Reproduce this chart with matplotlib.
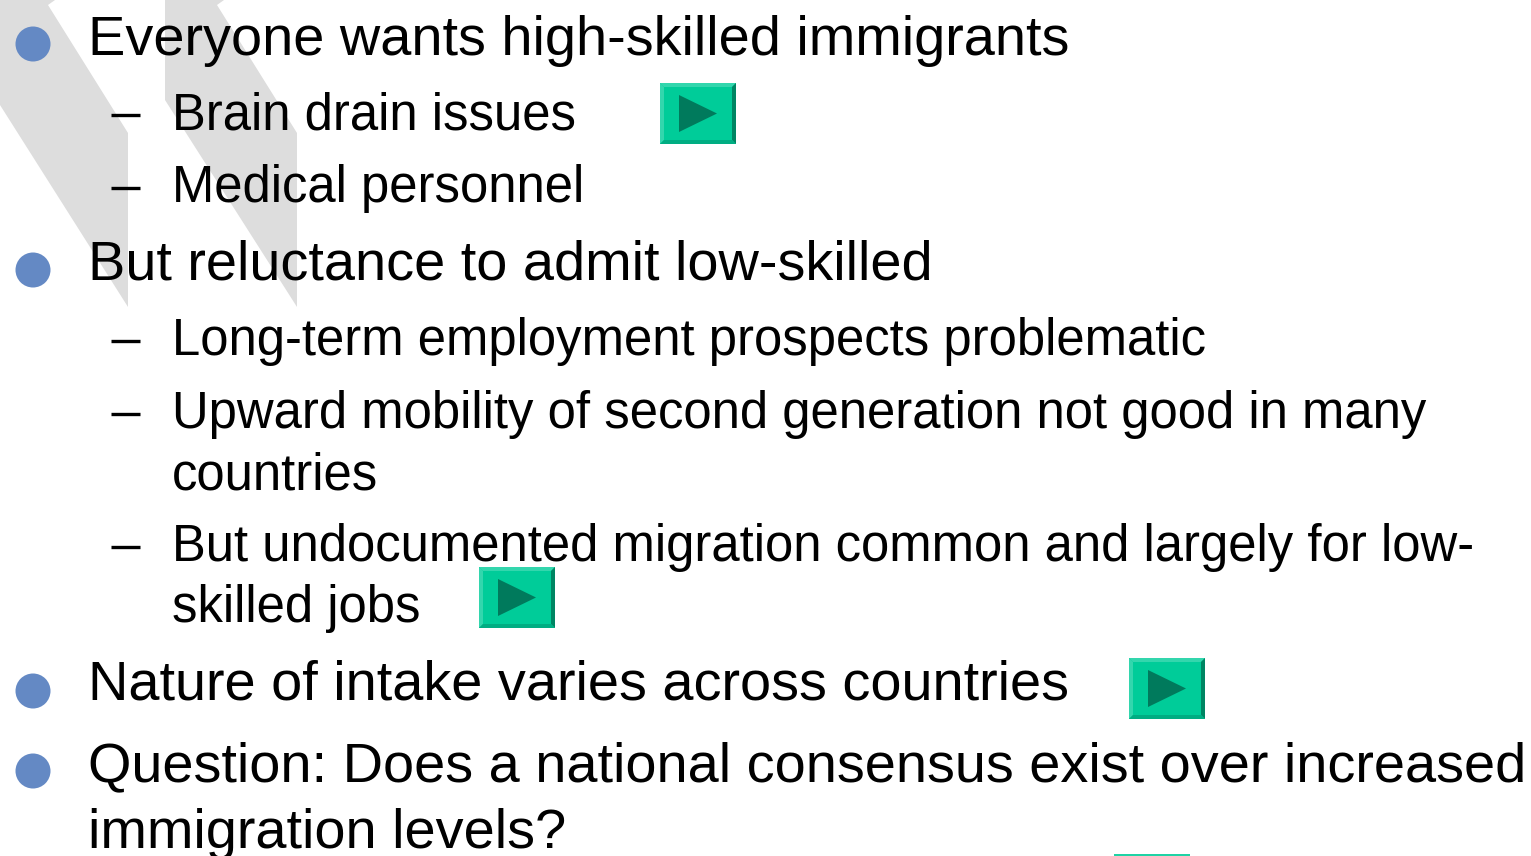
import matplotlib
matplotlib.use("Agg")
import matplotlib.pyplot as plt
from matplotlib.patches import Polygon, Circle, Rectangle

plt.rcParams["font.family"] = ["Liberation Sans", "DejaVu Sans"]

W, H = 1531, 856

# slide text: (x, baseline y, string)
main_lines = [
    (88, 55, "Everyone wants high-skilled immigrants"),
    (88, 280, "But reluctance to admit low-skilled"),
    (88, 700, "Nature of intake varies across countries"),
    (88, 781, "Question: Does a national consensus exist over increased"),
    (88, 848, "immigration levels?"),
]
sub_lines = [
    (172, 129, "Brain drain issues"),
    (172, 202, "Medical personnel"),
    (172, 355, "Long-term employment prospects problematic"),
    (172, 428, "Upward mobility of second generation not good in many"),
    (172, 489, "countries"),
    (172, 561, "But undocumented migration common and largely for low-"),
    (172, 622, "skilled jobs"),
]
bullet_y = [44, 270, 691, 771]
dash_y = [114.5, 187.5, 341, 414, 547]
button_pos = [(660, 83), (479, 567), (1129, 658)]

# grey background stripes
stripes = [
    [(0, 0), (55, 0), (48, 5), (128, 133), (128, 307), (0, 105)],
    [(165, 0), (224, 0), (217, 5), (297, 133), (297, 307), (165, 100)],
]

fig = plt.figure(figsize=(W / 100, H / 100), dpi=100)
ax = fig.add_axes([0, 0, 1, 1])
ax.set_xlim(0, W)
ax.set_ylim(H, 0)
ax.axis("off")


def draw_button(x, y, w=76, h=61):
    ax.add_patch(Rectangle((x, y), w, h, fc="#00CC99", ec="none", zorder=3))
    b = 4
    # bevel edges
    ax.add_patch(Polygon([(x, y), (x + w, y), (x + w - b, y + b), (x + b, y + b)], fc="#33D6AD", ec="none", zorder=4))
    ax.add_patch(Polygon([(x, y), (x + b, y + b), (x + b, y + h - b), (x, y + h)], fc="#33D6AD", ec="none", zorder=4))
    ax.add_patch(Polygon([(x + w, y), (x + w, y + h), (x + w - b, y + h - b), (x + w - b, y + b)], fc="#008563", ec="none", zorder=4))
    ax.add_patch(Polygon([(x, y + h), (x + w, y + h), (x + w - b, y + h - b), (x + b, y + h - b)], fc="#00AD82", ec="none", zorder=4))
    ax.add_patch(Polygon([(x + 19, y + 12), (x + 57, y + 30.5), (x + 19, y + 49)], fc="#007A5C", ec="none", zorder=5))


for s in stripes:
    ax.add_patch(Polygon(s, fc="#DDDDDD", ec="none", zorder=1))

for y in bullet_y:
    ax.add_patch(Circle((33, y), 17.5, fc="#6489C4", ec="none", zorder=2))

for y in dash_y:
    ax.plot([111, 140], [y, y], color="black", lw=2.4, solid_capstyle="butt", zorder=2)

for x, y, s in main_lines:
    ax.text(x, y, s, fontsize=40.2, color="black", va="baseline", ha="left", zorder=6)
for x, y, s in sub_lines:
    ax.text(x, y, s, fontsize=36.6, color="black", va="baseline", ha="left", zorder=6)

for x, y in button_pos:
    draw_button(x, y)

# top of the button cut off by the bottom edge
ax.add_patch(Rectangle((1114, 854), 76, 4, fc="#1FD3A5", ec="none", zorder=3))

fig.savefig("out.png", dpi=100)
